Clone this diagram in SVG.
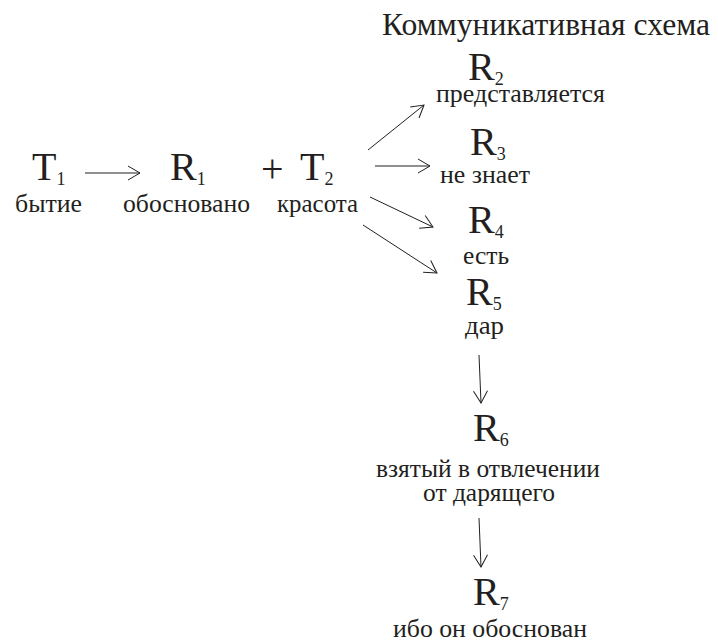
<svg xmlns="http://www.w3.org/2000/svg" width="718" height="642" viewBox="0 0 718 642">
<defs>
<marker id="ah" markerUnits="userSpaceOnUse" viewBox="-14 -8 15 16" markerWidth="15" markerHeight="16" refX="0" refY="0" orient="auto">
<path d="M-12,-7 L0,0 L-12,7" fill="none" stroke="#231f20" stroke-width="1"/>
</marker>
</defs>
<rect width="718" height="642" fill="#fff"/>
<text font-family="Liberation Serif" font-size="32" fill="#231f20" x="382" y="35" textLength="328" lengthAdjust="spacingAndGlyphs">Коммуникативная схема</text>
<g id="T1"><text font-family="Liberation Serif" font-size="40" fill="#231f20" x="32" y="180">T<tspan font-size="18" dy="5">1</tspan></text><text font-family="Liberation Serif" font-size="26" fill="#231f20" x="15" y="212" textLength="67" lengthAdjust="spacingAndGlyphs">бытие</text></g>
<g id="R1"><text font-family="Liberation Serif" font-size="40" fill="#231f20" x="170" y="180">R<tspan font-size="18" dy="5">1</tspan></text><text font-family="Liberation Serif" font-size="26" fill="#231f20" x="123" y="212" textLength="127" lengthAdjust="spacingAndGlyphs">обосновано</text></g>
<g id="plus"><text font-family="Liberation Serif" font-size="40" fill="#231f20" x="261" y="182">+</text></g>
<g id="T2"><text font-family="Liberation Serif" font-size="40" fill="#231f20" x="300" y="180">T<tspan font-size="18" dy="5">2</tspan></text><text font-family="Liberation Serif" font-size="26" fill="#231f20" x="277" y="212" textLength="81" lengthAdjust="spacingAndGlyphs">красота</text></g>
<g id="R2"><text font-family="Liberation Serif" font-size="40" fill="#231f20" x="468" y="80">R<tspan font-size="18" dy="5">2</tspan></text><text font-family="Liberation Serif" font-size="26" fill="#231f20" x="436" y="102" textLength="169" lengthAdjust="spacingAndGlyphs">представляется</text></g>
<g id="R3"><text font-family="Liberation Serif" font-size="40" fill="#231f20" x="470" y="155">R<tspan font-size="18" dy="5">3</tspan></text><text font-family="Liberation Serif" font-size="26" fill="#231f20" x="440" y="183" textLength="90" lengthAdjust="spacingAndGlyphs">не знает</text></g>
<g id="R4"><text font-family="Liberation Serif" font-size="40" fill="#231f20" x="468" y="233">R<tspan font-size="18" dy="5">4</tspan></text><text font-family="Liberation Serif" font-size="26" fill="#231f20" x="463" y="264" textLength="46" lengthAdjust="spacingAndGlyphs">есть</text></g>
<g id="R5"><text font-family="Liberation Serif" font-size="40" fill="#231f20" x="466" y="305">R<tspan font-size="18" dy="5">5</tspan></text><text font-family="Liberation Serif" font-size="26" fill="#231f20" x="465" y="334" textLength="39" lengthAdjust="spacingAndGlyphs">дар</text></g>
<g id="R6"><text font-family="Liberation Serif" font-size="40" fill="#231f20" x="473" y="441">R<tspan font-size="18" dy="5">6</tspan></text><text font-family="Liberation Serif" font-size="26" fill="#231f20" x="376" y="477" textLength="224" lengthAdjust="spacingAndGlyphs">взятый в отвлечении</text><text font-family="Liberation Serif" font-size="26" fill="#231f20" x="423" y="501" textLength="132" lengthAdjust="spacingAndGlyphs">от дарящего</text></g>
<g id="R7"><text font-family="Liberation Serif" font-size="40" fill="#231f20" x="473" y="605">R<tspan font-size="18" dy="5">7</tspan></text><text font-family="Liberation Serif" font-size="26" fill="#231f20" x="393" y="637" textLength="194" lengthAdjust="spacingAndGlyphs">ибо он обоснован</text></g>
<g id="connectors" stroke="#231f20" stroke-width="1" fill="none">
<line x1="85" y1="173" x2="140" y2="173" marker-end="url(#ah)"/>
<line x1="368" y1="150" x2="424" y2="105" marker-end="url(#ah)"/>
<line x1="375" y1="166" x2="430" y2="166" marker-end="url(#ah)"/>
<line x1="370" y1="197" x2="433" y2="227" marker-end="url(#ah)"/>
<line x1="363" y1="225" x2="437" y2="273" marker-end="url(#ah)"/>
<line x1="479" y1="355" x2="481" y2="403" marker-end="url(#ah)"/>
<line x1="479" y1="518" x2="481" y2="567" marker-end="url(#ah)"/>
</g>
</svg>
